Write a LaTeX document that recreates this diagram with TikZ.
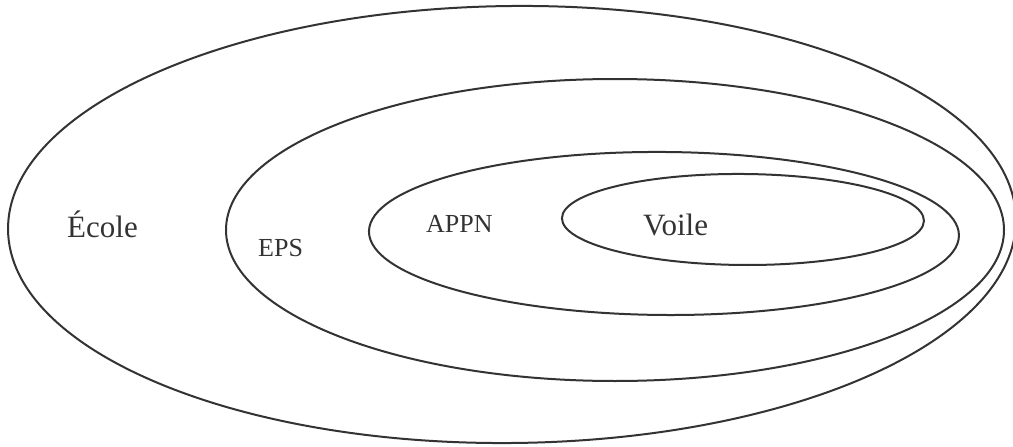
\documentclass[tikz,border=0pt]{standalone}
\usepackage{fontspec}
\setmainfont{Liberation Serif}
\definecolor{ink}{HTML}{333333}
\tikzset{
  ring/.style={draw=ink, line width=2pt},
  biglabel/.style={text=ink, font=\fontsize{31}{36}\selectfont, anchor=base west, inner sep=0pt},
  smalllabel/.style={text=ink, font=\fontsize{26}{30}\selectfont, anchor=base west, inner sep=0pt},
}
\begin{document}
\begin{tikzpicture}[x=1pt, y=-1pt]
  \useasboundingbox (0,0) rectangle (1013,447);
  % nested sets, outermost to innermost
  \coordinate (cEcole) at (512,224.5);
  \coordinate (cEPS)   at (615,230);
  \coordinate (cAPPN)  at (664,233.5);
  \coordinate (cVoile) at (743,219.5);
  \draw[ring, rotate around={0.6:(cEcole)}] (cEcole) ellipse [x radius=504, y radius=218.5];
  \draw[ring] (cEPS) ellipse [x radius=389, y radius=151];
  \draw[ring, rotate around={-0.4:(cAPPN)}] (cAPPN) ellipse [x radius=295, y radius=81.5];
  \draw[ring, rotate around={-0.4:(cVoile)}] (cVoile) ellipse [x radius=181, y radius=45.5];
  % labels
  \node[biglabel]   (ecole) at (67,237)  {École};
  \node[smalllabel] (eps)   at (258,256) {EPS};
  \node[smalllabel] (appn)  at (426,232) {APPN};
  \node[biglabel]   (voile) at (643,235) {Voile};
\end{tikzpicture}
\end{document}
